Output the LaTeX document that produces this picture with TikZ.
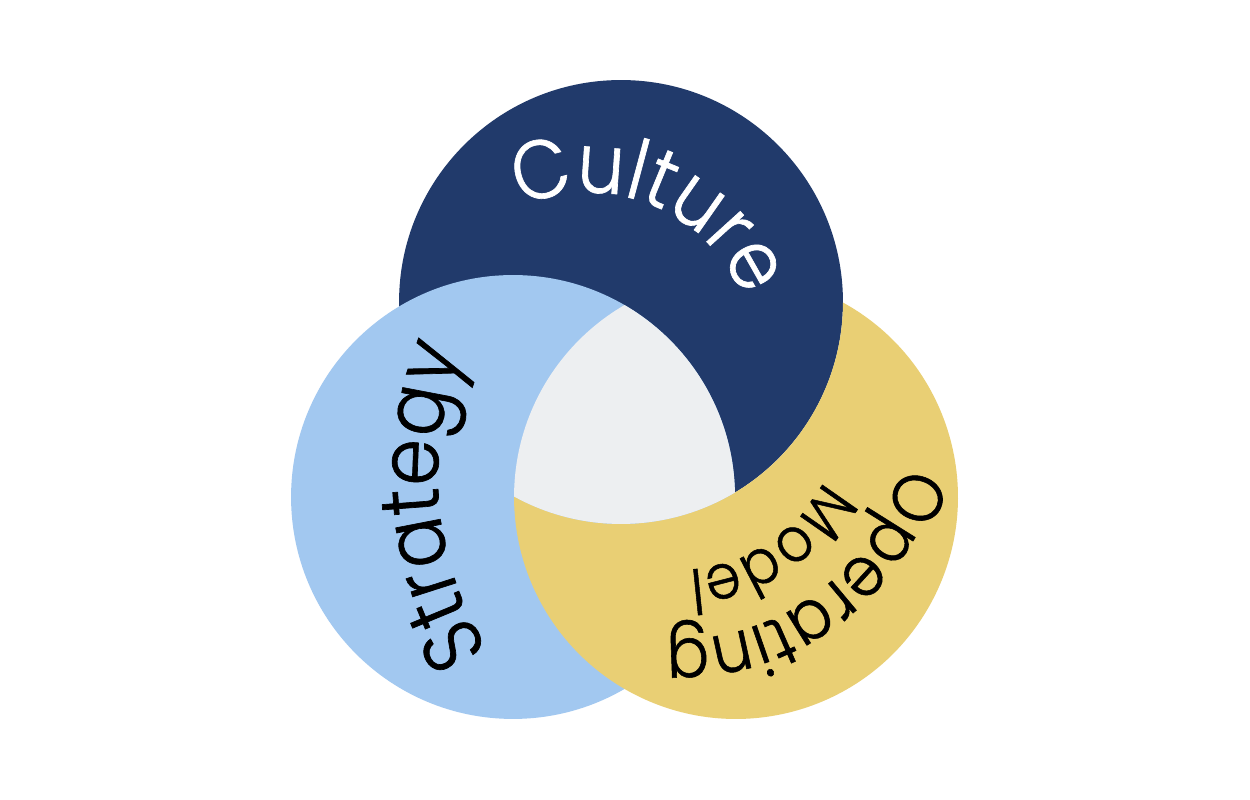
\documentclass[tikz,border=0pt]{standalone}
\usepackage{fontspec}
\setmainfont{Poppins Light}[FakeStretch=0.9,FakeBold=0.8]
\usetikzlibrary{decorations.text}
\definecolor{navy}{HTML}{213A6B}
\definecolor{skyb}{HTML}{A2C8F0}
\definecolor{gold}{HTML}{E9CF74}
\definecolor{core}{HTML}{EDEFF1}
\begin{document}
\begin{tikzpicture}[x=0.02cm,y=0.02cm,
  arctext/.style n args={3}{decorate, decoration={text along path, text align=center, text color=#1,
      text={|\fontsize{#2}{#2}\selectfont|#3}}}]
\fill[white] (0,0) rectangle (1250,800);
\useasboundingbox (0,0) rectangle (1250,800);
\def\R{4.44cm}
\coordinate (cN) at (621,498);
\coordinate (cB) at (513,303);
\coordinate (cY) at (736,303);
% circles: blue over navy, navy over yellow, yellow over blue
\fill[navy] (cN) circle[radius=\R];
\fill[skyb] (cB) circle[radius=\R];
\fill[gold] (cY) ++(61.185:\R) arc[start angle=61.185, end angle=-180.125, radius=\R]
   arc[start angle=241.185, end angle=359.875, radius=\R] -- cycle;
\begin{scope}
  \clip (cB) circle[radius=\R];
  \clip (cY) circle[radius=\R];
  \fill[core] (cN) circle[radius=\R];
\end{scope}
% curved labels
\coordinate (tC) at (588,440.5);
\coordinate (tS) at (765,324);
\coordinate (tO) at (678.5,392);
\path[arctext={white}{47.2pt}{Culture}] (tC) ++(157.8:3.34cm) arc[start angle=157.8, end angle=-22.2, radius=3.34cm];
\path[arctext={black}{47.4pt}{Strategy}] (tS) ++(245:6.54cm) arc[start angle=245, end angle=125, radius=6.54cm];
\path[arctext={black}{40pt}{Operating}] (tO) ++(36.2:4.62cm) arc[start angle=36.2, end angle=-143.8, radius=4.62cm];
\path[arctext={black}{35.5pt}{Model}] (tO) ++(33.6:3.24cm) arc[start angle=33.6, end angle=-146.4, radius=3.24cm];
\end{tikzpicture}
\end{document}
